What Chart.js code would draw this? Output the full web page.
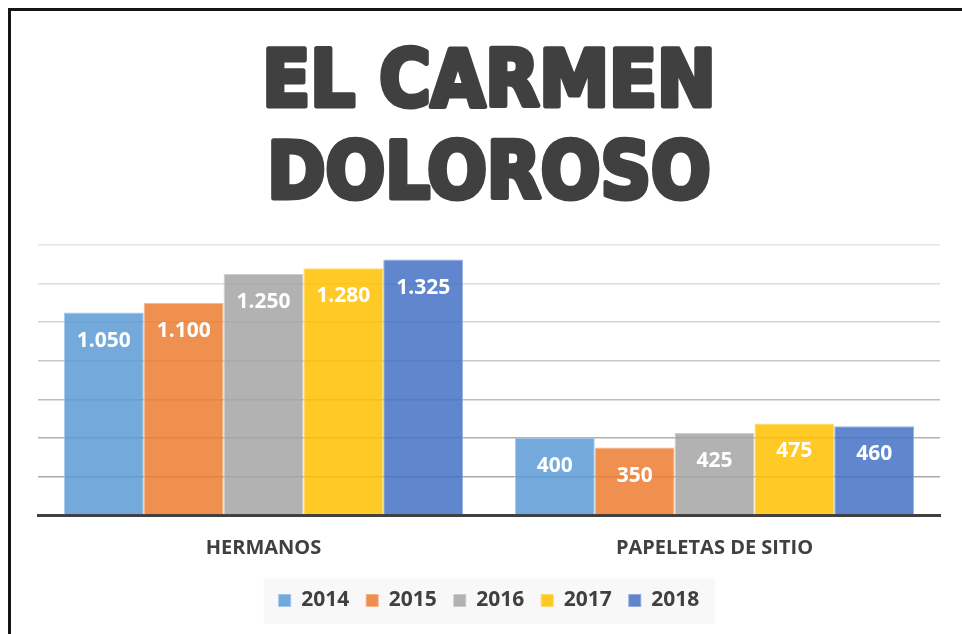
<!DOCTYPE html>
<html>
<head>
<meta charset="utf-8">
<script src="https://cdn.jsdelivr.net/npm/chart.js@4.4.1/dist/chart.umd.min.js"></script>
<style>
  html, body { margin: 0; padding: 0; background: #fff; overflow: hidden; }
  .frame {
    position: absolute; left: 8px; top: 8px; width: 2000px; height: 2000px;
    border: 3px solid #151515; box-sizing: border-box;
  }
  .wrap { position: absolute; left: 0; top: 0; width: 962px; height: 634px; }
</style>
</head>
<body>
<div class="frame"></div>
<div class="wrap"><canvas id="chart" width="962" height="634"></canvas></div>
<script>
// Data
const categories = ['HERMANOS', 'PAPELETAS DE SITIO'];
const years = ['2014', '2015', '2016', '2017', '2018'];
const values2014 = [1050, 400];
const values2015 = [1100, 350];
const values2016 = [1250, 425];
const values2017 = [1280, 475];
const values2018 = [1325, 460];
const yTicks = [0, 200, 400, 600, 800, 1000, 1200, 1400];

const seriesValues = [values2014, values2015, values2016, values2017, values2018];
const fills = ['rgba(91,155,213,0.85)', 'rgba(237,125,49,0.85)', 'rgba(165,165,165,0.85)', 'rgba(255,192,0,0.85)', 'rgba(68,114,196,0.85)'];
const edges = ['rgba(157,195,230,0.9)', 'rgba(244,177,131,0.9)', 'rgba(201,201,201,0.9)', 'rgba(255,217,102,0.9)', 'rgba(143,170,220,0.9)'];
const gridColors = { 200: '#a9a9a9', 400: '#b1b1b1', 600: '#bdbdbd', 800: '#c8c8c8', 1000: '#d2d2d2', 1200: '#dddddd', 1400: '#e6e6e6' };

// thousands with a dot, like the original
function fmt(v) {
    return String(v).replace(/\B(?=(\d{3})+(?!\d))/g, '.');
}

// value labels inside the top of each bar
const barLabels = {
    id: 'barLabels',
    afterDatasetsDraw(chart) {
        const ctx = chart.ctx;
        ctx.save();
        ctx.font = 'bold 21px "Open Sans"';
        ctx.fillStyle = '#ffffff';
        ctx.textAlign = 'center';
        ctx.textBaseline = 'middle';
        chart.data.datasets.forEach((ds, i) => {
            chart.getDatasetMeta(i).data.forEach((bar, j) => {
                ctx.fillText(fmt(ds.data[j]), bar.x, bar.y + 28);
            });
        });
        ctx.restore();
    }
};

// light grey panel behind the legend
const legendPanel = {
    id: 'legendPanel',
    beforeDraw(chart) {
        const boxes = chart.legend && chart.legend.legendHitBoxes;
        if (!boxes || !boxes.length) return;
        const first = boxes[0];
        const last = boxes[boxes.length - 1];
        const ctx = chart.ctx;
        ctx.save();
        ctx.fillStyle = '#f8f8f8';
        const cy = first.top + first.height / 2;
        const x0 = first.left - 15;
        const x1 = last.left + last.width + 16;
        ctx.fillRect(x0, cy - 22, x1 - x0, 45);
        ctx.restore();
    }
};

// the original title uses a very heavy rounded face: thicken the title glyphs
const heavyTitle = {
    id: 'heavyTitle',
    afterDraw(chart) {
        const tb = chart.titleBlock;
        if (!tb) return;
        const opts = tb.options;
        const font = Chart.helpers.toFont(opts.font);
        const pad = Chart.helpers.toPadding(opts.padding);
        const lines = [].concat(opts.text);
        const ctx = chart.ctx;
        ctx.save();
        ctx.font = font.string;
        ctx.strokeStyle = opts.color;
        ctx.lineWidth = 5;
        ctx.lineJoin = 'round';
        ctx.textAlign = 'center';
        ctx.textBaseline = 'middle';
        const cx = (tb.left + tb.right) / 2;
        let y = tb.top + pad.top + font.lineHeight / 2;
        lines.forEach(line => {
            ctx.strokeText(line, cx, y);
            y += font.lineHeight;
        });
        ctx.restore();
    }
};

Chart.defaults.font.family = '"Open Sans", sans-serif';

new Chart(document.getElementById('chart').getContext('2d'), {
    type: 'bar',
    data: {
        labels: categories,
        datasets: years.map((y, i) => ({
            label: y,
            data: seriesValues[i],
            backgroundColor: fills[i],
            borderColor: edges[i],
            borderWidth: 1,
            barPercentage: 1,
            categoryPercentage: 0.885
        }))
    },
    options: {
        responsive: false,
        animation: false,
        layout: { padding: { left: 38, right: 22, top: 0, bottom: 13 } },
        scales: {
            x: {
                grid: { display: false },
                border: { display: true, color: '#404040', width: 3 },
                ticks: {
                    color: '#404040',
                    font: { size: 20, weight: 'bold' },
                    padding: 13,
                    maxRotation: 0
                }
            },
            y: {
                min: 0,
                max: 1400,
                afterBuildTicks(axis) {
                    axis.ticks = yTicks.map(v => ({ value: v }));
                },
                ticks: { display: false },
                border: { display: false },
                grid: {
                    drawTicks: false,
                    color: ctx => gridColors[ctx.tick.value] || 'rgba(0,0,0,0)',
                    lineWidth: 1.5
                },
                afterFit(axis) { axis.width = 0; }
            }
        },
        plugins: {
            title: {
                display: true,
                text: ['EL CARMEN', 'DOLOROSO'],
                color: '#404040',
                font: { family: '"DejaVu Sans Condensed", "DejaVu Sans", sans-serif', size: 78, weight: 'bold', lineHeight: 1.18 },
                padding: { top: 40, bottom: 21 }
            },
            legend: {
                position: 'bottom',
                labels: {
                    color: '#404040',
                    font: { size: 21, weight: 'bold' },
                    boxWidth: 12,
                    boxHeight: 12,
                    padding: 17
                }
            },
            tooltip: { enabled: false }
        }
    },
    plugins: [barLabels, legendPanel, heavyTitle]
});
</script>
</body>
</html>
